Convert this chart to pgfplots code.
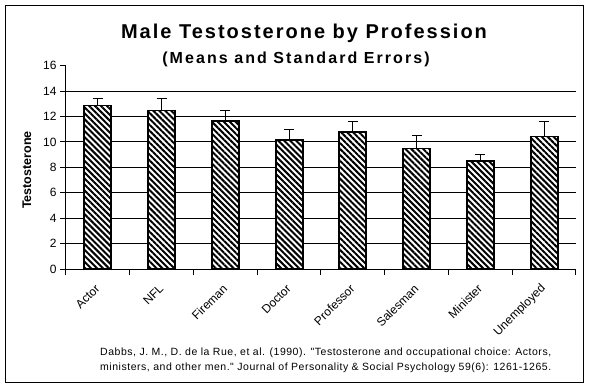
\documentclass[border=0pt]{standalone}
\usepackage{pgfplots}
\pgfplotsset{compat=1.18}
\usepackage{fontspec}
\setmainfont{Liberation Sans}
\newfontfamily\titlefont{Liberation Sans}[LetterSpace=10]
\newfontfamily\subfont{Liberation Sans}[LetterSpace=13]
\newfontfamily\citefont{Liberation Sans}[LetterSpace=5]
\usetikzlibrary{patterns.meta}
\pgfplotstableread{
x y e
0 12.87 0.58
1 12.48 0.97
2 11.64 0.87
3 10.15 0.79
4 10.78 0.81
5 9.49 1.05
6 8.47 0.58
7 10.43 1.16
}\datatable
\begin{document}
\begin{tikzpicture}
\useasboundingbox (-66pt,-122pt) rectangle (524pt,269pt);
\draw[line width=1pt] (-60pt,-114pt) rectangle (517pt,263pt);
\begin{axis}[
  at={(0pt,0pt)}, anchor=south west,
  scale only axis, width=510pt, height=203.3pt,
  xmin=-0.5, xmax=7.5, ymin=0, ymax=16,
  axis x line*=bottom, axis y line*=left,
  axis line style={line width=1pt,-},
  tick align=outside,
  xtick={0,...,7},
  xticklabels={Actor,NFL,Fireman,Doctor,Professor,Salesman,Minister,Unemployed},
  major x tick style={draw=none},
  minor xtick={-0.5,0.5,...,7.5},
  minor tick length=6pt,
  minor x tick style={line width=1pt, black},
  ytick={0,2,...,16},
  major tick length=6pt,
  major y tick style={line width=1pt, black},
  extra y ticks={2,4,...,14},
  extra y tick labels={},
  extra y tick style={grid=major, major grid style={black, line width=0.9pt}, major y tick style={draw=none}},
  /pgf/number format/assume math mode=true,
  yticklabel style={font=\fontsize{12}{12}\selectfont},
  xticklabel style={rotate=45, anchor=east, xshift=-5pt, yshift=-8pt, font=\fontsize{12}{12}\selectfont},
  ylabel={Testosterone},
  ylabel style={at={(axis description cs:-0.0765,0.487)}, anchor=center, font=\fontsize{12.5}{12.5}\bfseries\selectfont},
]
\addplot[ybar, bar width=27pt, draw=black, line width=1.8pt,
  preaction={fill=white},
  pattern={Lines[angle=-45,distance=4.2pt,line width=2pt]},
  error bars/.cd, y dir=plus, y explicit,
  error bar style={line width=1pt, black},
  error mark options={rotate=90, mark size=5pt, line width=1pt, black}]
  table[x=x, y=y, y error=e] {\datatable};
\end{axis}
\node[font=\titlefont\fontsize{20}{20}\bfseries\selectfont, anchor=base] at (238pt,230pt) {Male Testosterone by Profession};
\node[font=\subfont\fontsize{16}{16}\bfseries\selectfont, anchor=base] at (230pt,205pt) {(Means and Standard Errors)};
\node[font=\citefont\fontsize{10.5}{10.5}\selectfont, anchor=base west, inner sep=0pt] at (34pt,-87pt) {Dabbs, J. M., D. de la Rue, et al. (1990). "Testosterone and occupational choice: Actors,};
\node[font=\citefont\fontsize{10.5}{10.5}\selectfont, anchor=base west, inner sep=0pt] at (34pt,-101.7pt) {ministers, and other men." Journal of Personality \& Social Psychology 59(6): 1261-1265.};
\end{tikzpicture}
\end{document}
